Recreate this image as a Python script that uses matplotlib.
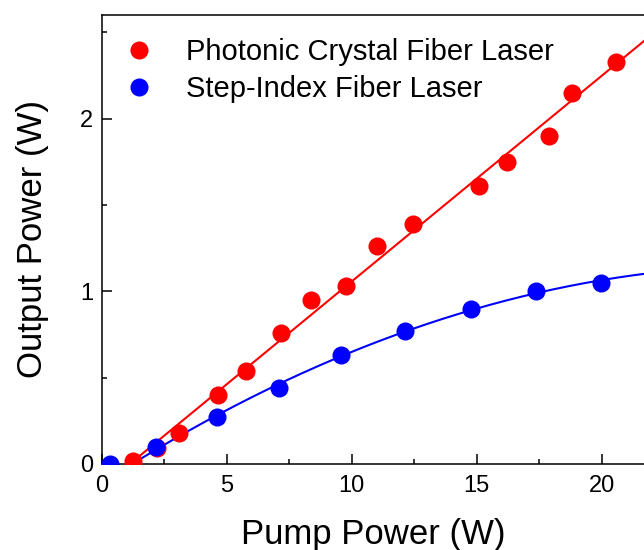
import numpy as np
import matplotlib.pyplot as plt
from matplotlib.ticker import MultipleLocator

plt.rcParams['font.family'] = ['Liberation Sans', 'DejaVu Sans']

# data
pcf_pump = [1.24, 2.2, 3.1, 4.64, 5.76, 7.16, 8.36, 9.76, 11.0, 12.44, 15.08, 16.2, 17.9, 18.8, 20.56]
pcf_out = [0.02, 0.09, 0.18, 0.40, 0.54, 0.76, 0.95, 1.03, 1.26, 1.39, 1.61, 1.75, 1.90, 2.15, 2.33]
si_pump = [0.32, 2.16, 4.6, 7.08, 9.56, 12.12, 14.76, 17.36, 19.96]
si_out = [0.0, 0.10, 0.27, 0.44, 0.63, 0.77, 0.90, 1.00, 1.05]

pcf_pump = np.array(pcf_pump)
pcf_out = np.array(pcf_out)
si_pump = np.array(si_pump)
si_out = np.array(si_out)

# fits
p_red = np.polyfit(pcf_pump, pcf_out, 1)
p_blue = np.polyfit(si_pump[1:], si_out[1:], 2)
xr = np.linspace(-p_red[1] / p_red[0], 22, 200)
xb = np.linspace(1.0, 22, 200)

fig = plt.figure(figsize=(6.44, 5.5), dpi=100)
ax = fig.add_axes([102/644, 86/550, 1 - 102/644, (464-15)/550])

ax.plot(xr, np.polyval(p_red, xr), color='red', lw=1.5, zorder=2)
ax.plot(xb, np.polyval(p_blue, xb), color='blue', lw=1.5, zorder=2)
ax.plot(pcf_pump, pcf_out, 'o', color='red', ms=13, mec='none', label='Photonic Crystal Fiber Laser', zorder=3)
ax.plot(si_pump, si_out, 'o', color='blue', ms=13, mec='none', label='Step-Index Fiber Laser', zorder=3)

ax.set_xlim(0, 21.7)
ax.set_ylim(0, 2.6)
ax.xaxis.set_major_locator(MultipleLocator(5))
ax.xaxis.set_minor_locator(MultipleLocator(2.5))
ax.yaxis.set_major_locator(MultipleLocator(1))
ax.yaxis.set_minor_locator(MultipleLocator(0.5))
ax.tick_params(which='both', direction='in', labelsize=17, width=1.1)
ax.tick_params(which='major', length=7)
ax.tick_params(which='minor', length=3.5)
ax.tick_params(axis='x', pad=8)
ax.tick_params(axis='y', pad=6.5)
ax.spines['right'].set_visible(False)
for s in ['left', 'bottom', 'top']:
    ax.spines[s].set_linewidth(1.1)

ax.set_xlabel('Pump Power (W)', fontsize=25, labelpad=15)
ax.set_ylabel('Output Power (W)', fontsize=25, labelpad=22)

ax.legend(loc='upper left', bbox_to_anchor=(0.0, 1.0), frameon=False, fontsize=21,
          handlelength=1.0, handletextpad=1.1, labelspacing=0.33, borderaxespad=0.38,
          markerscale=1.0)

fig.savefig('out.png', dpi=100)
